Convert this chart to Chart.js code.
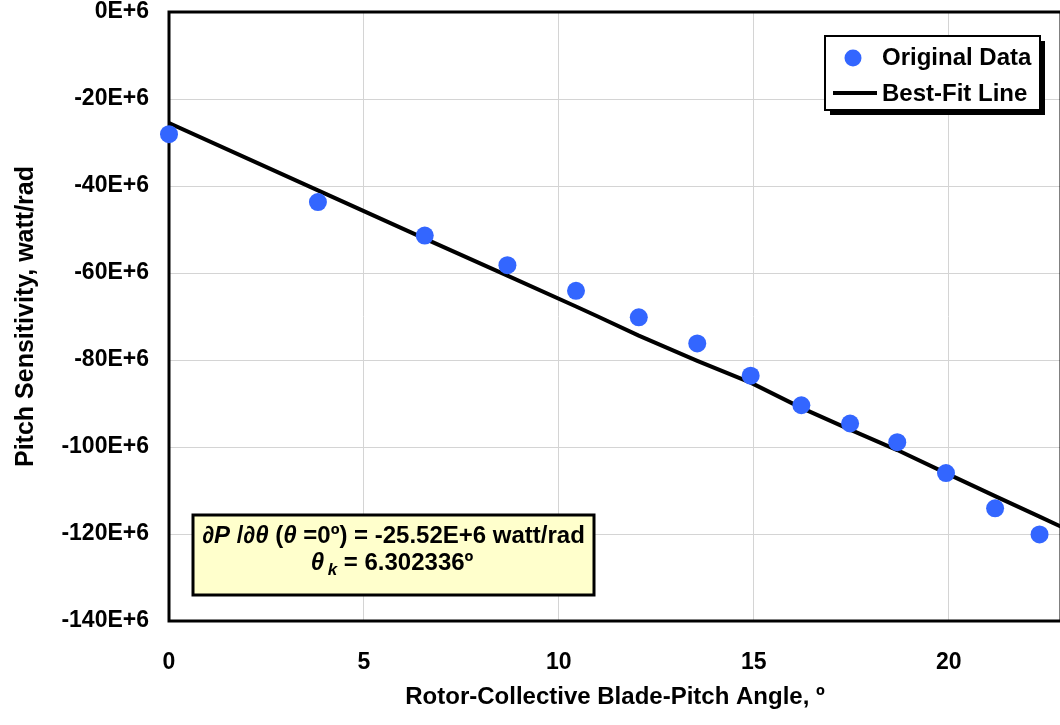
<!DOCTYPE html>
<html><head><meta charset="utf-8">
<script src="https://cdn.jsdelivr.net/npm/chart.js@4.4.1/dist/chart.umd.min.js"></script>
<style>
html,body{margin:0;padding:0;background:#fff;overflow:hidden;}
#wrap{width:1070px;height:725px;}
</style></head><body>
<div id="wrap"><canvas id="c" width="1070" height="725"></canvas></div>
<script>
const pitchAngles = [0, 3.82, 6.56, 8.68, 10.44, 12.05, 13.55, 14.92, 16.22, 17.47, 18.68, 19.93, 21.19, 22.33];
const originalData = [-28.1, -43.7, -51.4, -58.2, -64.1, -70.2, -76.2, -83.6, -90.4, -94.6, -98.9, -106.0, -114.1, -120.1];
const fitAngles = [0, 3.82, 6.56, 8.68, 10.44, 11.0, 12.05, 13.55, 14.92, 16.22, 17.47, 18.68, 19.93, 21.19, 22.33, 22.9];
const fitValues = [-25.52, -41.0, -52.1, -60.6, -67.7, -70.0, -74.4, -80.2, -85.2, -91.0, -96.0, -100.7, -106.0, -111.3, -116.0, -118.4];
const seriesNames = ['Original Data', 'Best-Fit Line'];
const xTitle = 'Rotor-Collective Blade-Pitch Angle, º';
const yTitle = 'Pitch Sensitivity, watt/rad';
const tickSuffix = 'E+6';
const noteLine1 = [['∂P ', true], ['/', false], ['∂θ', true], [' (', false], ['θ ', true], ['=0º) = -25.52E+6 watt/rad', false]];
const noteLine2Sym = 'θ', noteLine2Sub = 'k', noteLine2Rest = ' = 6.302336º';

const FONT = '"Liberation Sans", Arial, sans-serif';
const BLUE = '#3366ff';

const frame = {
  id: 'frame',
  beforeDatasetsDraw(chart) {
    const {ctx, chartArea: a} = chart;
    ctx.save();
    ctx.strokeStyle = '#000';
    ctx.lineWidth = 3;
    ctx.strokeRect(a.left, a.top, a.right - a.left, a.bottom - a.top);
    ctx.restore();
  }
};

const overlay = {
  id: 'overlay',
  afterDraw(chart) {
    const {ctx} = chart;
    ctx.save();
    // Legend
    const lx = 825, ly = 36, lw = 215, lh = 74;
    ctx.fillStyle = '#000';
    ctx.fillRect(lx + 5, ly + 5, lw, lh);
    ctx.fillStyle = '#fff';
    ctx.fillRect(lx, ly, lw, lh);
    ctx.strokeStyle = '#000';
    ctx.lineWidth = 2;
    ctx.strokeRect(lx, ly, lw, lh);
    ctx.fillStyle = BLUE;
    ctx.beginPath();
    ctx.arc(853, 58, 8.5, 0, Math.PI * 2);
    ctx.fill();
    ctx.strokeStyle = '#000';
    ctx.lineWidth = 4;
    ctx.beginPath();
    ctx.moveTo(833, 93); ctx.lineTo(877, 93);
    ctx.stroke();
    ctx.fillStyle = '#000';
    ctx.font = 'bold 24px ' + FONT;
    ctx.textBaseline = 'middle';
    ctx.textAlign = 'left';
    ctx.fillText(seriesNames[0], 882, 58);
    ctx.fillText(seriesNames[1], 882, 94);

    // Annotation box
    const bx = 193, by = 515, bw = 401, bh = 80;
    ctx.fillStyle = '#ffffcc';
    ctx.fillRect(bx, by, bw, bh);
    ctx.strokeStyle = '#000';
    ctx.lineWidth = 3;
    ctx.strokeRect(bx, by, bw, bh);
    ctx.fillStyle = '#000';
    const size = 24;
    const fN = 'bold ' + size + 'px ' + FONT;
    const fI = 'italic bold ' + size + 'px ' + FONT;
    let total = 0;
    for (const [t, it] of noteLine1) { ctx.font = it ? fI : fN; total += ctx.measureText(t).width; }
    let x = bx + bw / 2 - total / 2;
    ctx.textBaseline = 'alphabetic';
    for (const [t, it] of noteLine1) { ctx.font = it ? fI : fN; ctx.fillText(t, x, 543); x += ctx.measureText(t).width; }
    const fS = 'italic bold 17px ' + FONT;
    ctx.font = fI; const w1 = ctx.measureText(noteLine2Sym + ' ').width;
    ctx.font = fS; const w2 = ctx.measureText(noteLine2Sub).width;
    ctx.font = fN; const w3 = ctx.measureText(noteLine2Rest).width;
    x = bx + bw / 2 - (w1 + w2 + w3) / 2;
    ctx.font = fI; ctx.fillText(noteLine2Sym, x, 570); x += w1 - 3;
    ctx.font = fS; ctx.fillText(noteLine2Sub, x, 575); x += w2;
    ctx.font = fN; ctx.fillText(noteLine2Rest, x, 570);
    ctx.restore();
  }
};

new Chart(document.getElementById('c'), {
  type: 'scatter',
  data: {
    datasets: [
      {
        label: seriesNames[0],
        data: pitchAngles.map((v, i) => ({x: v, y: originalData[i]})),
        backgroundColor: BLUE,
        borderColor: BLUE,
        pointRadius: 9,
        pointBorderWidth: 0,
        showLine: false,
        clip: false
      },
      {
        label: seriesNames[1],
        data: fitAngles.map((v, i) => ({x: v, y: fitValues[i]})),
        borderColor: '#000',
        backgroundColor: '#000',
        borderWidth: 4,
        pointRadius: 0,
        showLine: true,
        tension: 0
      }
    ]
  },
  options: {
    responsive: false,
    animation: false,
    devicePixelRatio: 1,
    layout: {padding: {top: 12, right: 4, left: 0, bottom: 0}},
    plugins: {legend: {display: false}, tooltip: {enabled: false}},
    scales: {
      x: {
        type: 'linear',
        min: 0, max: 22.88,
        grid: {color: '#d4d4d4', lineWidth: 1, drawTicks: false},
        border: {display: false},
        ticks: {stepSize: 5, includeBounds: false, padding: 28, color: '#000', font: {family: FONT, size: 23, weight: 'bold'}},
        title: {display: true, text: xTitle, color: '#000', padding: {top: 0, bottom: 13}, font: {family: FONT, size: 24, weight: 'bold'}},
        afterFit(s) { s.height = 104; s.paddingLeft = 0; s.paddingRight = 0; }
      },
      y: {
        min: -140, max: 0,
        grid: {color: '#d4d4d4', lineWidth: 1, drawTicks: false},
        border: {display: false},
        ticks: {stepSize: 20, padding: 20, color: '#000', font: {family: FONT, size: 23, weight: 'bold'},
          callback: v => v + tickSuffix},
        title: {display: true, text: yTitle, color: '#000', padding: {top: 11, bottom: 0}, font: {family: FONT, size: 25, weight: 'bold'}},
        afterFit(s) { s.width = 169; s.paddingTop = 0; s.paddingBottom = 0; }
      }
    }
  },
  plugins: [frame, overlay]
});
</script>
</body></html>
